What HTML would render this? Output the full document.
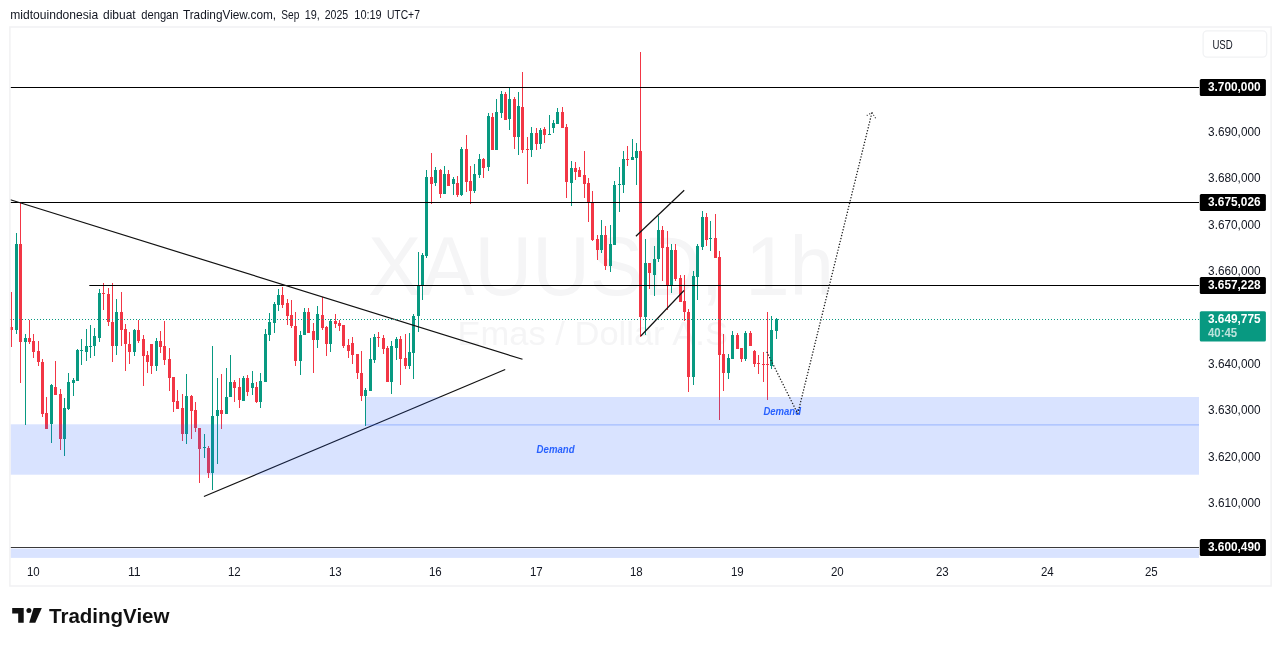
<!DOCTYPE html>
<html lang="id"><head><meta charset="utf-8"><title>XAUUSD 1h - TradingView</title>
<style>html,body{margin:0;padding:0;background:#fff;width:1281px;height:646px;overflow:hidden}</style></head>
<body>
<svg width="1281" height="646" viewBox="0 0 1281 646" style="position:absolute;left:0;top:0" font-family="'Liberation Sans', sans-serif">
<rect x="0" y="0" width="1281" height="646" fill="#fff"/>
<rect x="9.9" y="27.0" width="1261.2" height="559" fill="none" stroke="#f1f1f3" stroke-width="1.5"/>
<text x="368" y="294.8" font-size="84" fill="#f5f5f6" textLength="466" lengthAdjust="spacingAndGlyphs">XAUUSD, 1h</text>
<text x="457.5" y="345" font-size="34" fill="#f5f5f6" textLength="280" lengthAdjust="spacingAndGlyphs">Emas / Dollar A.S.</text>
<clipPath id="pane"><rect x="10.6" y="27.6" width="1188.4" height="530.4"/></clipPath>
<g clip-path="url(#pane)">
<g shape-rendering="crispEdges">
<rect x="11" y="292" width="1" height="55" fill="#f23645"/>
<rect x="10" y="327" width="3" height="3" fill="#f23645"/>
<rect x="16" y="233" width="1" height="101" fill="#089981"/>
<rect x="15" y="244" width="3" height="86" fill="#089981"/>
<rect x="20" y="203" width="1" height="180" fill="#f23645"/>
<rect x="19" y="244" width="3" height="98" fill="#f23645"/>
<rect x="25" y="334" width="1" height="91" fill="#089981"/>
<rect x="24" y="338" width="3" height="4" fill="#089981"/>
<rect x="29" y="320" width="1" height="24" fill="#f23645"/>
<rect x="28" y="338" width="3" height="4" fill="#f23645"/>
<rect x="33" y="334" width="1" height="24" fill="#f23645"/>
<rect x="32" y="341" width="3" height="11" fill="#f23645"/>
<rect x="38" y="341" width="1" height="25" fill="#f23645"/>
<rect x="37" y="351" width="3" height="11" fill="#f23645"/>
<rect x="42" y="359" width="1" height="58" fill="#f23645"/>
<rect x="41" y="362" width="3" height="52" fill="#f23645"/>
<rect x="46" y="397" width="1" height="32" fill="#f23645"/>
<rect x="45" y="413" width="3" height="16" fill="#f23645"/>
<rect x="51" y="384" width="1" height="59" fill="#089981"/>
<rect x="50" y="385" width="3" height="39" fill="#089981"/>
<rect x="55" y="361" width="1" height="34" fill="#f23645"/>
<rect x="54" y="387" width="3" height="8" fill="#f23645"/>
<rect x="60" y="389" width="1" height="61" fill="#f23645"/>
<rect x="59" y="394" width="3" height="45" fill="#f23645"/>
<rect x="64" y="398" width="1" height="58" fill="#089981"/>
<rect x="63" y="408" width="3" height="31" fill="#089981"/>
<rect x="68" y="373" width="1" height="37" fill="#089981"/>
<rect x="67" y="382" width="3" height="27" fill="#089981"/>
<rect x="73" y="378" width="1" height="18" fill="#089981"/>
<rect x="72" y="380" width="3" height="3" fill="#089981"/>
<rect x="77" y="349" width="1" height="32" fill="#089981"/>
<rect x="76" y="350" width="3" height="31" fill="#089981"/>
<rect x="81" y="339" width="1" height="26" fill="#089981"/>
<rect x="80" y="350" width="3" height="1" fill="#089981"/>
<rect x="86" y="329" width="1" height="32" fill="#089981"/>
<rect x="85" y="346" width="3" height="6" fill="#089981"/>
<rect x="90" y="325" width="1" height="33" fill="#089981"/>
<rect x="89" y="346" width="3" height="1" fill="#089981"/>
<rect x="94" y="328" width="1" height="28" fill="#089981"/>
<rect x="93" y="336" width="3" height="10" fill="#089981"/>
<rect x="99" y="289" width="1" height="53" fill="#089981"/>
<rect x="98" y="293" width="3" height="45" fill="#089981"/>
<rect x="103" y="283" width="1" height="27" fill="#f23645"/>
<rect x="102" y="293" width="3" height="1" fill="#f23645"/>
<rect x="108" y="288" width="1" height="38" fill="#f23645"/>
<rect x="107" y="294" width="3" height="28" fill="#f23645"/>
<rect x="112" y="283" width="1" height="79" fill="#f23645"/>
<rect x="111" y="322" width="3" height="24" fill="#f23645"/>
<rect x="116" y="299" width="1" height="56" fill="#089981"/>
<rect x="115" y="312" width="3" height="34" fill="#089981"/>
<rect x="121" y="292" width="1" height="54" fill="#f23645"/>
<rect x="120" y="312" width="3" height="18" fill="#f23645"/>
<rect x="125" y="324" width="1" height="47" fill="#f23645"/>
<rect x="124" y="329" width="3" height="15" fill="#f23645"/>
<rect x="129" y="332" width="1" height="32" fill="#f23645"/>
<rect x="128" y="344" width="3" height="8" fill="#f23645"/>
<rect x="134" y="329" width="1" height="27" fill="#089981"/>
<rect x="133" y="330" width="3" height="22" fill="#089981"/>
<rect x="138" y="320" width="1" height="23" fill="#f23645"/>
<rect x="137" y="330" width="3" height="11" fill="#f23645"/>
<rect x="143" y="335" width="1" height="51" fill="#f23645"/>
<rect x="142" y="339" width="3" height="17" fill="#f23645"/>
<rect x="147" y="351" width="1" height="22" fill="#f23645"/>
<rect x="146" y="355" width="3" height="7" fill="#f23645"/>
<rect x="151" y="344" width="1" height="30" fill="#f23645"/>
<rect x="150" y="344" width="3" height="22" fill="#f23645"/>
<rect x="156" y="338" width="1" height="33" fill="#089981"/>
<rect x="155" y="341" width="3" height="25" fill="#089981"/>
<rect x="160" y="331" width="1" height="22" fill="#f23645"/>
<rect x="159" y="341" width="3" height="6" fill="#f23645"/>
<rect x="164" y="321" width="1" height="44" fill="#f23645"/>
<rect x="163" y="346" width="3" height="14" fill="#f23645"/>
<rect x="169" y="348" width="1" height="43" fill="#f23645"/>
<rect x="168" y="359" width="3" height="19" fill="#f23645"/>
<rect x="173" y="377" width="1" height="35" fill="#f23645"/>
<rect x="172" y="377" width="3" height="25" fill="#f23645"/>
<rect x="177" y="390" width="1" height="19" fill="#f23645"/>
<rect x="176" y="401" width="3" height="8" fill="#f23645"/>
<rect x="182" y="394" width="1" height="47" fill="#f23645"/>
<rect x="181" y="408" width="3" height="26" fill="#f23645"/>
<rect x="186" y="374" width="1" height="70" fill="#089981"/>
<rect x="185" y="396" width="3" height="38" fill="#089981"/>
<rect x="191" y="395" width="1" height="44" fill="#f23645"/>
<rect x="190" y="396" width="3" height="15" fill="#f23645"/>
<rect x="195" y="402" width="1" height="30" fill="#f23645"/>
<rect x="194" y="410" width="3" height="18" fill="#f23645"/>
<rect x="199" y="428" width="1" height="55" fill="#f23645"/>
<rect x="198" y="428" width="3" height="21" fill="#f23645"/>
<rect x="204" y="434" width="1" height="24" fill="#089981"/>
<rect x="203" y="447" width="3" height="1" fill="#089981"/>
<rect x="208" y="446" width="1" height="32" fill="#f23645"/>
<rect x="207" y="448" width="3" height="25" fill="#f23645"/>
<rect x="212" y="346" width="1" height="144" fill="#089981"/>
<rect x="211" y="416" width="3" height="57" fill="#089981"/>
<rect x="217" y="378" width="1" height="86" fill="#089981"/>
<rect x="216" y="410" width="3" height="6" fill="#089981"/>
<rect x="221" y="374" width="1" height="55" fill="#f23645"/>
<rect x="220" y="410" width="3" height="4" fill="#f23645"/>
<rect x="226" y="368" width="1" height="46" fill="#089981"/>
<rect x="225" y="397" width="3" height="17" fill="#089981"/>
<rect x="230" y="355" width="1" height="42" fill="#089981"/>
<rect x="229" y="382" width="3" height="15" fill="#089981"/>
<rect x="234" y="380" width="1" height="22" fill="#f23645"/>
<rect x="233" y="382" width="3" height="6" fill="#f23645"/>
<rect x="239" y="378" width="1" height="30" fill="#f23645"/>
<rect x="238" y="387" width="3" height="13" fill="#f23645"/>
<rect x="243" y="376" width="1" height="25" fill="#089981"/>
<rect x="242" y="378" width="3" height="23" fill="#089981"/>
<rect x="247" y="375" width="1" height="21" fill="#f23645"/>
<rect x="246" y="378" width="3" height="14" fill="#f23645"/>
<rect x="252" y="371" width="1" height="24" fill="#089981"/>
<rect x="251" y="383" width="3" height="5" fill="#089981"/>
<rect x="256" y="382" width="1" height="21" fill="#f23645"/>
<rect x="255" y="387" width="3" height="15" fill="#f23645"/>
<rect x="260" y="373" width="1" height="35" fill="#089981"/>
<rect x="259" y="381" width="3" height="21" fill="#089981"/>
<rect x="265" y="329" width="1" height="53" fill="#089981"/>
<rect x="264" y="334" width="3" height="48" fill="#089981"/>
<rect x="269" y="313" width="1" height="28" fill="#089981"/>
<rect x="268" y="322" width="3" height="13" fill="#089981"/>
<rect x="274" y="302" width="1" height="31" fill="#089981"/>
<rect x="273" y="304" width="3" height="19" fill="#089981"/>
<rect x="278" y="289" width="1" height="22" fill="#089981"/>
<rect x="277" y="295" width="3" height="10" fill="#089981"/>
<rect x="282" y="287" width="1" height="21" fill="#f23645"/>
<rect x="281" y="295" width="3" height="10" fill="#f23645"/>
<rect x="287" y="299" width="1" height="26" fill="#f23645"/>
<rect x="286" y="303" width="3" height="13" fill="#f23645"/>
<rect x="291" y="300" width="1" height="28" fill="#f23645"/>
<rect x="290" y="315" width="3" height="11" fill="#f23645"/>
<rect x="295" y="312" width="1" height="54" fill="#f23645"/>
<rect x="294" y="326" width="3" height="35" fill="#f23645"/>
<rect x="300" y="331" width="1" height="44" fill="#089981"/>
<rect x="299" y="335" width="3" height="26" fill="#089981"/>
<rect x="304" y="308" width="1" height="27" fill="#089981"/>
<rect x="303" y="312" width="3" height="23" fill="#089981"/>
<rect x="308" y="308" width="1" height="25" fill="#f23645"/>
<rect x="307" y="312" width="3" height="21" fill="#f23645"/>
<rect x="313" y="323" width="1" height="50" fill="#f23645"/>
<rect x="312" y="331" width="3" height="9" fill="#f23645"/>
<rect x="317" y="306" width="1" height="42" fill="#089981"/>
<rect x="316" y="314" width="3" height="26" fill="#089981"/>
<rect x="322" y="297" width="1" height="33" fill="#f23645"/>
<rect x="321" y="315" width="3" height="13" fill="#f23645"/>
<rect x="326" y="326" width="1" height="30" fill="#f23645"/>
<rect x="325" y="327" width="3" height="17" fill="#f23645"/>
<rect x="330" y="319" width="1" height="33" fill="#089981"/>
<rect x="329" y="321" width="3" height="23" fill="#089981"/>
<rect x="335" y="314" width="1" height="14" fill="#f23645"/>
<rect x="334" y="321" width="3" height="3" fill="#f23645"/>
<rect x="339" y="320" width="1" height="11" fill="#f23645"/>
<rect x="338" y="323" width="3" height="3" fill="#f23645"/>
<rect x="343" y="325" width="1" height="23" fill="#f23645"/>
<rect x="342" y="325" width="3" height="21" fill="#f23645"/>
<rect x="348" y="339" width="1" height="19" fill="#f23645"/>
<rect x="347" y="345" width="3" height="6" fill="#f23645"/>
<rect x="352" y="337" width="1" height="27" fill="#f23645"/>
<rect x="351" y="343" width="3" height="12" fill="#f23645"/>
<rect x="357" y="354" width="1" height="25" fill="#f23645"/>
<rect x="356" y="354" width="3" height="19" fill="#f23645"/>
<rect x="361" y="351" width="1" height="50" fill="#f23645"/>
<rect x="360" y="373" width="3" height="23" fill="#f23645"/>
<rect x="365" y="388" width="1" height="38" fill="#089981"/>
<rect x="364" y="390" width="3" height="6" fill="#089981"/>
<rect x="370" y="338" width="1" height="53" fill="#089981"/>
<rect x="369" y="359" width="3" height="32" fill="#089981"/>
<rect x="374" y="334" width="1" height="29" fill="#089981"/>
<rect x="373" y="337" width="3" height="23" fill="#089981"/>
<rect x="378" y="332" width="1" height="15" fill="#f23645"/>
<rect x="377" y="337" width="3" height="1" fill="#f23645"/>
<rect x="383" y="335" width="1" height="19" fill="#f23645"/>
<rect x="382" y="338" width="3" height="11" fill="#f23645"/>
<rect x="387" y="346" width="1" height="36" fill="#f23645"/>
<rect x="386" y="348" width="3" height="34" fill="#f23645"/>
<rect x="391" y="341" width="1" height="53" fill="#089981"/>
<rect x="390" y="346" width="3" height="36" fill="#089981"/>
<rect x="396" y="337" width="1" height="23" fill="#089981"/>
<rect x="395" y="339" width="3" height="9" fill="#089981"/>
<rect x="400" y="336" width="1" height="49" fill="#f23645"/>
<rect x="399" y="339" width="3" height="20" fill="#f23645"/>
<rect x="405" y="334" width="1" height="35" fill="#f23645"/>
<rect x="404" y="358" width="3" height="8" fill="#f23645"/>
<rect x="409" y="333" width="1" height="36" fill="#089981"/>
<rect x="408" y="352" width="3" height="14" fill="#089981"/>
<rect x="413" y="314" width="1" height="65" fill="#089981"/>
<rect x="412" y="316" width="3" height="37" fill="#089981"/>
<rect x="418" y="252" width="1" height="80" fill="#089981"/>
<rect x="417" y="286" width="3" height="30" fill="#089981"/>
<rect x="422" y="253" width="1" height="47" fill="#089981"/>
<rect x="421" y="255" width="3" height="31" fill="#089981"/>
<rect x="426" y="170" width="1" height="88" fill="#089981"/>
<rect x="425" y="177" width="3" height="79" fill="#089981"/>
<rect x="431" y="153" width="1" height="51" fill="#f23645"/>
<rect x="430" y="177" width="3" height="7" fill="#f23645"/>
<rect x="435" y="167" width="1" height="19" fill="#089981"/>
<rect x="434" y="170" width="3" height="13" fill="#089981"/>
<rect x="440" y="169" width="1" height="29" fill="#f23645"/>
<rect x="439" y="170" width="3" height="24" fill="#f23645"/>
<rect x="444" y="166" width="1" height="28" fill="#089981"/>
<rect x="443" y="174" width="3" height="20" fill="#089981"/>
<rect x="448" y="170" width="1" height="16" fill="#f23645"/>
<rect x="447" y="174" width="3" height="12" fill="#f23645"/>
<rect x="453" y="177" width="1" height="18" fill="#089981"/>
<rect x="452" y="179" width="3" height="5" fill="#089981"/>
<rect x="457" y="176" width="1" height="21" fill="#f23645"/>
<rect x="456" y="183" width="3" height="12" fill="#f23645"/>
<rect x="461" y="147" width="1" height="49" fill="#089981"/>
<rect x="460" y="149" width="3" height="46" fill="#089981"/>
<rect x="466" y="135" width="1" height="57" fill="#f23645"/>
<rect x="465" y="149" width="3" height="33" fill="#f23645"/>
<rect x="470" y="166" width="1" height="38" fill="#f23645"/>
<rect x="469" y="181" width="3" height="10" fill="#f23645"/>
<rect x="474" y="164" width="1" height="29" fill="#089981"/>
<rect x="473" y="174" width="3" height="17" fill="#089981"/>
<rect x="479" y="154" width="1" height="24" fill="#089981"/>
<rect x="478" y="159" width="3" height="16" fill="#089981"/>
<rect x="483" y="158" width="1" height="20" fill="#f23645"/>
<rect x="482" y="159" width="3" height="9" fill="#f23645"/>
<rect x="488" y="113" width="1" height="58" fill="#089981"/>
<rect x="487" y="116" width="3" height="51" fill="#089981"/>
<rect x="492" y="113" width="1" height="37" fill="#f23645"/>
<rect x="491" y="117" width="3" height="33" fill="#f23645"/>
<rect x="496" y="99" width="1" height="51" fill="#089981"/>
<rect x="495" y="112" width="3" height="38" fill="#089981"/>
<rect x="501" y="91" width="1" height="27" fill="#089981"/>
<rect x="500" y="94" width="3" height="19" fill="#089981"/>
<rect x="505" y="92" width="1" height="28" fill="#f23645"/>
<rect x="504" y="94" width="3" height="26" fill="#f23645"/>
<rect x="509" y="88" width="1" height="42" fill="#089981"/>
<rect x="508" y="99" width="3" height="20" fill="#089981"/>
<rect x="514" y="97" width="1" height="52" fill="#f23645"/>
<rect x="513" y="99" width="3" height="38" fill="#f23645"/>
<rect x="518" y="92" width="1" height="63" fill="#089981"/>
<rect x="517" y="106" width="3" height="31" fill="#089981"/>
<rect x="522" y="72" width="1" height="81" fill="#f23645"/>
<rect x="521" y="107" width="3" height="43" fill="#f23645"/>
<rect x="527" y="137" width="1" height="47" fill="#f23645"/>
<rect x="526" y="149" width="3" height="1" fill="#f23645"/>
<rect x="531" y="127" width="1" height="30" fill="#089981"/>
<rect x="530" y="133" width="3" height="17" fill="#089981"/>
<rect x="536" y="128" width="1" height="22" fill="#f23645"/>
<rect x="535" y="133" width="3" height="11" fill="#f23645"/>
<rect x="540" y="128" width="1" height="21" fill="#089981"/>
<rect x="539" y="130" width="3" height="14" fill="#089981"/>
<rect x="544" y="127" width="1" height="16" fill="#f23645"/>
<rect x="543" y="129" width="3" height="6" fill="#f23645"/>
<rect x="549" y="115" width="1" height="20" fill="#089981"/>
<rect x="548" y="134" width="3" height="1" fill="#089981"/>
<rect x="553" y="120" width="1" height="13" fill="#089981"/>
<rect x="552" y="123" width="3" height="5" fill="#089981"/>
<rect x="557" y="108" width="1" height="16" fill="#089981"/>
<rect x="556" y="112" width="3" height="12" fill="#089981"/>
<rect x="562" y="107" width="1" height="21" fill="#f23645"/>
<rect x="561" y="112" width="3" height="16" fill="#f23645"/>
<rect x="566" y="124" width="1" height="74" fill="#f23645"/>
<rect x="565" y="127" width="3" height="55" fill="#f23645"/>
<rect x="571" y="161" width="1" height="45" fill="#089981"/>
<rect x="570" y="168" width="3" height="15" fill="#089981"/>
<rect x="575" y="162" width="1" height="18" fill="#f23645"/>
<rect x="574" y="168" width="3" height="4" fill="#f23645"/>
<rect x="579" y="167" width="1" height="10" fill="#f23645"/>
<rect x="578" y="170" width="3" height="7" fill="#f23645"/>
<rect x="584" y="151" width="1" height="47" fill="#f23645"/>
<rect x="583" y="175" width="3" height="9" fill="#f23645"/>
<rect x="588" y="178" width="1" height="44" fill="#f23645"/>
<rect x="587" y="183" width="3" height="19" fill="#f23645"/>
<rect x="592" y="191" width="1" height="50" fill="#f23645"/>
<rect x="591" y="203" width="3" height="37" fill="#f23645"/>
<rect x="597" y="235" width="1" height="25" fill="#f23645"/>
<rect x="596" y="239" width="3" height="11" fill="#f23645"/>
<rect x="601" y="220" width="1" height="33" fill="#089981"/>
<rect x="600" y="235" width="3" height="15" fill="#089981"/>
<rect x="605" y="226" width="1" height="44" fill="#f23645"/>
<rect x="604" y="235" width="3" height="31" fill="#f23645"/>
<rect x="610" y="225" width="1" height="47" fill="#089981"/>
<rect x="609" y="244" width="3" height="22" fill="#089981"/>
<rect x="614" y="181" width="1" height="64" fill="#089981"/>
<rect x="613" y="185" width="3" height="60" fill="#089981"/>
<rect x="619" y="167" width="1" height="45" fill="#089981"/>
<rect x="618" y="184" width="3" height="1" fill="#089981"/>
<rect x="623" y="151" width="1" height="42" fill="#089981"/>
<rect x="622" y="159" width="3" height="26" fill="#089981"/>
<rect x="627" y="146" width="1" height="20" fill="#f23645"/>
<rect x="626" y="159" width="3" height="1" fill="#f23645"/>
<rect x="632" y="139" width="1" height="21" fill="#089981"/>
<rect x="631" y="157" width="3" height="3" fill="#089981"/>
<rect x="636" y="143" width="1" height="42" fill="#089981"/>
<rect x="635" y="151" width="3" height="7" fill="#089981"/>
<rect x="640" y="52" width="1" height="285" fill="#f23645"/>
<rect x="639" y="151" width="3" height="166" fill="#f23645"/>
<rect x="645" y="239" width="1" height="96" fill="#089981"/>
<rect x="644" y="263" width="3" height="54" fill="#089981"/>
<rect x="649" y="263" width="1" height="26" fill="#f23645"/>
<rect x="648" y="263" width="3" height="10" fill="#f23645"/>
<rect x="654" y="246" width="1" height="50" fill="#089981"/>
<rect x="653" y="259" width="3" height="16" fill="#089981"/>
<rect x="658" y="216" width="1" height="46" fill="#089981"/>
<rect x="657" y="230" width="3" height="29" fill="#089981"/>
<rect x="662" y="226" width="1" height="55" fill="#f23645"/>
<rect x="661" y="230" width="3" height="18" fill="#f23645"/>
<rect x="667" y="231" width="1" height="79" fill="#f23645"/>
<rect x="666" y="247" width="3" height="39" fill="#f23645"/>
<rect x="671" y="244" width="1" height="49" fill="#089981"/>
<rect x="670" y="250" width="3" height="35" fill="#089981"/>
<rect x="675" y="244" width="1" height="37" fill="#f23645"/>
<rect x="674" y="250" width="3" height="29" fill="#f23645"/>
<rect x="680" y="275" width="1" height="27" fill="#f23645"/>
<rect x="679" y="278" width="3" height="24" fill="#f23645"/>
<rect x="684" y="275" width="1" height="46" fill="#f23645"/>
<rect x="683" y="301" width="3" height="11" fill="#f23645"/>
<rect x="688" y="309" width="1" height="83" fill="#f23645"/>
<rect x="687" y="312" width="3" height="65" fill="#f23645"/>
<rect x="693" y="271" width="1" height="114" fill="#089981"/>
<rect x="692" y="276" width="3" height="101" fill="#089981"/>
<rect x="697" y="244" width="1" height="56" fill="#089981"/>
<rect x="696" y="246" width="3" height="31" fill="#089981"/>
<rect x="702" y="211" width="1" height="39" fill="#089981"/>
<rect x="701" y="217" width="3" height="30" fill="#089981"/>
<rect x="706" y="213" width="1" height="33" fill="#f23645"/>
<rect x="705" y="217" width="3" height="23" fill="#f23645"/>
<rect x="710" y="221" width="1" height="30" fill="#089981"/>
<rect x="709" y="238" width="3" height="1" fill="#089981"/>
<rect x="715" y="214" width="1" height="44" fill="#f23645"/>
<rect x="714" y="238" width="3" height="20" fill="#f23645"/>
<rect x="719" y="251" width="1" height="169" fill="#f23645"/>
<rect x="718" y="257" width="3" height="98" fill="#f23645"/>
<rect x="723" y="334" width="1" height="57" fill="#f23645"/>
<rect x="722" y="354" width="3" height="19" fill="#f23645"/>
<rect x="728" y="354" width="1" height="25" fill="#089981"/>
<rect x="727" y="358" width="3" height="15" fill="#089981"/>
<rect x="732" y="331" width="1" height="28" fill="#089981"/>
<rect x="731" y="335" width="3" height="24" fill="#089981"/>
<rect x="737" y="333" width="1" height="16" fill="#f23645"/>
<rect x="736" y="335" width="3" height="14" fill="#f23645"/>
<rect x="741" y="348" width="1" height="14" fill="#f23645"/>
<rect x="740" y="348" width="3" height="11" fill="#f23645"/>
<rect x="745" y="331" width="1" height="30" fill="#089981"/>
<rect x="744" y="333" width="3" height="26" fill="#089981"/>
<rect x="750" y="331" width="1" height="15" fill="#f23645"/>
<rect x="749" y="333" width="3" height="13" fill="#f23645"/>
<rect x="754" y="350" width="1" height="17" fill="#f23645"/>
<rect x="753" y="351" width="3" height="13" fill="#f23645"/>
<rect x="758" y="355" width="1" height="19" fill="#f23645"/>
<rect x="757" y="363" width="3" height="1" fill="#f23645"/>
<rect x="763" y="352" width="1" height="30" fill="#f23645"/>
<rect x="762" y="364" width="3" height="1" fill="#f23645"/>
<rect x="767" y="312" width="1" height="88" fill="#f23645"/>
<rect x="766" y="364" width="3" height="1" fill="#f23645"/>
<rect x="771" y="316" width="1" height="53" fill="#089981"/>
<rect x="770" y="330" width="3" height="36" fill="#089981"/>
<rect x="776" y="318" width="1" height="21" fill="#089981"/>
<rect x="775" y="319" width="3" height="12" fill="#089981"/>
</g>
<line x1="10.6" y1="87.5" x2="1199" y2="87.5" stroke="#000" stroke-width="1.05"/>
<line x1="10.6" y1="202.5" x2="1199" y2="202.5" stroke="#000" stroke-width="1.05"/>
<line x1="89.3" y1="285.5" x2="1199" y2="285.5" stroke="#000" stroke-width="1.05"/>
<line x1="10.6" y1="547.5" x2="1199" y2="547.5" stroke="#3a3a3a" stroke-width="1.05"/>
<line x1="10.4" y1="199.7" x2="522.5" y2="359.3" stroke="#111" stroke-width="1.2"/>
<line x1="203.9" y1="496.5" x2="505.2" y2="369.5" stroke="#111" stroke-width="1.2"/>
<line x1="635.9" y1="236.2" x2="684.2" y2="190.2" stroke="#111" stroke-width="1.2"/>
<line x1="640.8" y1="336" x2="684" y2="290.5" stroke="#111" stroke-width="1.2"/>
<line x1="10" y1="319.5" x2="1199" y2="319.5" stroke="#089981" stroke-width="1" stroke-dasharray="1 2" shape-rendering="crispEdges"/>
<rect x="10.6" y="424.3" width="1188.4" height="50.4" fill="#2962ff" fill-opacity="0.175"/>
<rect x="365.8" y="397" width="833.2" height="27.3" fill="#2962ff" fill-opacity="0.175"/>
<line x1="365.5" y1="424.8" x2="1199" y2="424.8" stroke="#2962ff" stroke-opacity="0.3" stroke-width="1.2"/>
<rect x="10.6" y="548.6" width="1188.4" height="9.3" fill="#2962ff" fill-opacity="0.175"/>
<text x="536.6" y="452.8" font-size="10.2" font-weight="bold" font-style="italic" fill="#2962ff" textLength="38" lengthAdjust="spacingAndGlyphs">Demand</text>
<text x="763.4" y="414.8" font-size="10.2" font-weight="bold" font-style="italic" fill="#2962ff" textLength="37.6" lengthAdjust="spacingAndGlyphs">Demand</text>
<polyline points="767.1,352.4 797.75,413.7 872,112.3" fill="none" stroke="#222" stroke-width="1.45" stroke-linecap="round" stroke-dasharray="0.01 2.99"/>
<polyline points="867.2,115.3 872.1,112.6 875.5,118.1" fill="none" stroke="#222" stroke-width="1.2" stroke-linecap="round" stroke-dasharray="0.01 2.9"/>
</g>
<text x="26.9" y="575.7" font-size="12.2" fill="#131722" textLength="12.8" lengthAdjust="spacingAndGlyphs">10</text>
<text x="127.9" y="575.7" font-size="12.2" fill="#131722" textLength="12.8" lengthAdjust="spacingAndGlyphs">11</text>
<text x="227.9" y="575.7" font-size="12.2" fill="#131722" textLength="12.8" lengthAdjust="spacingAndGlyphs">12</text>
<text x="328.9" y="575.7" font-size="12.2" fill="#131722" textLength="12.8" lengthAdjust="spacingAndGlyphs">13</text>
<text x="428.9" y="575.7" font-size="12.2" fill="#131722" textLength="12.8" lengthAdjust="spacingAndGlyphs">16</text>
<text x="529.9" y="575.7" font-size="12.2" fill="#131722" textLength="12.8" lengthAdjust="spacingAndGlyphs">17</text>
<text x="629.9" y="575.7" font-size="12.2" fill="#131722" textLength="12.8" lengthAdjust="spacingAndGlyphs">18</text>
<text x="730.9" y="575.7" font-size="12.2" fill="#131722" textLength="12.8" lengthAdjust="spacingAndGlyphs">19</text>
<text x="830.9" y="575.7" font-size="12.2" fill="#131722" textLength="12.8" lengthAdjust="spacingAndGlyphs">20</text>
<text x="935.9" y="575.7" font-size="12.2" fill="#131722" textLength="12.8" lengthAdjust="spacingAndGlyphs">23</text>
<text x="1040.9" y="575.7" font-size="12.2" fill="#131722" textLength="12.8" lengthAdjust="spacingAndGlyphs">24</text>
<text x="1144.9" y="575.7" font-size="12.2" fill="#131722" textLength="12.8" lengthAdjust="spacingAndGlyphs">25</text>
<text x="1208.1" y="135.9" font-size="12.6" fill="#131722" textLength="52.5" lengthAdjust="spacingAndGlyphs">3.690,000</text>
<text x="1208.1" y="182.3" font-size="12.6" fill="#131722" textLength="52.5" lengthAdjust="spacingAndGlyphs">3.680,000</text>
<text x="1208.1" y="228.7" font-size="12.6" fill="#131722" textLength="52.5" lengthAdjust="spacingAndGlyphs">3.670,000</text>
<text x="1208.1" y="275.0" font-size="12.6" fill="#131722" textLength="52.5" lengthAdjust="spacingAndGlyphs">3.660,000</text>
<text x="1208.1" y="367.8" font-size="12.6" fill="#131722" textLength="52.5" lengthAdjust="spacingAndGlyphs">3.640,000</text>
<text x="1208.1" y="414.1" font-size="12.6" fill="#131722" textLength="52.5" lengthAdjust="spacingAndGlyphs">3.630,000</text>
<text x="1208.1" y="460.5" font-size="12.6" fill="#131722" textLength="52.5" lengthAdjust="spacingAndGlyphs">3.620,000</text>
<text x="1208.1" y="506.9" font-size="12.6" fill="#131722" textLength="52.5" lengthAdjust="spacingAndGlyphs">3.610,000</text>
<rect x="1199.8" y="78.9" width="66.1" height="17" rx="1.5" fill="#000"/>
<text x="1208" y="90.8" font-size="12" font-weight="bold" fill="#fff" textLength="52.6" lengthAdjust="spacingAndGlyphs">3.700,000</text>
<rect x="1199.8" y="194.0" width="66.1" height="17" rx="1.5" fill="#000"/>
<text x="1208" y="205.8" font-size="12" font-weight="bold" fill="#fff" textLength="52.6" lengthAdjust="spacingAndGlyphs">3.675,026</text>
<rect x="1199.8" y="276.9" width="66.1" height="17" rx="1.5" fill="#000"/>
<text x="1208" y="288.8" font-size="12" font-weight="bold" fill="#fff" textLength="52.6" lengthAdjust="spacingAndGlyphs">3.657,228</text>
<rect x="1199.8" y="538.9" width="66.1" height="17" rx="1.5" fill="#000"/>
<text x="1208" y="550.8" font-size="12" font-weight="bold" fill="#fff" textLength="52.6" lengthAdjust="spacingAndGlyphs">3.600,490</text>
<rect x="1199.8" y="311.2" width="66.1" height="30.4" rx="1.5" fill="#089981"/>
<text x="1208" y="322.8" font-size="12" font-weight="bold" fill="#fff" textLength="52.6" lengthAdjust="spacingAndGlyphs">3.649,775</text>
<text x="1208" y="336.8" font-size="12" font-weight="bold" fill="#fff" fill-opacity="0.72" textLength="29.2" lengthAdjust="spacingAndGlyphs">40:45</text>
<rect x="1203.1" y="30.8" width="63.6" height="26.3" rx="4" fill="#fff" stroke="#f1f2f4" stroke-width="1.3"/>
<text x="1212.4" y="48.85" font-size="12.4" fill="#131722" textLength="20.3" lengthAdjust="spacingAndGlyphs">USD</text>
<text x="10.3" y="19" font-size="12.4" fill="#131722" textLength="87.9" lengthAdjust="spacingAndGlyphs">midtouindonesia</text>
<text x="103" y="19" font-size="12.4" fill="#131722" textLength="32.7" lengthAdjust="spacingAndGlyphs">dibuat</text>
<text x="141.2" y="19" font-size="12.4" fill="#131722" textLength="37.4" lengthAdjust="spacingAndGlyphs">dengan</text>
<text x="182.9" y="19" font-size="12.4" fill="#131722" textLength="93.2" lengthAdjust="spacingAndGlyphs">TradingView.com,</text>
<text x="281.3" y="19" font-size="12.4" fill="#131722" textLength="18.0" lengthAdjust="spacingAndGlyphs">Sep</text>
<text x="304.8" y="19" font-size="12.4" fill="#131722" textLength="15.1" lengthAdjust="spacingAndGlyphs">19,</text>
<text x="324.7" y="19" font-size="12.4" fill="#131722" textLength="23.5" lengthAdjust="spacingAndGlyphs">2025</text>
<text x="354.3" y="19" font-size="12.4" fill="#131722" textLength="27.4" lengthAdjust="spacingAndGlyphs">10:19</text>
<text x="386.9" y="19" font-size="12.4" fill="#131722" textLength="33.0" lengthAdjust="spacingAndGlyphs">UTC+7</text>
<g fill="#111">
<path d="M12.2 608H23.7V622.7H18.2V613.5H12.2Z"/>
<circle cx="28.9" cy="610.5" r="2.5"/>
<path d="M33.6 608H41.8L35.3 622.7H29.2Z"/>
<text x="49" y="622.7" font-size="20.6" font-weight="bold" textLength="120.5" lengthAdjust="spacingAndGlyphs">TradingView</text>
</g>
</svg>
</body></html>
